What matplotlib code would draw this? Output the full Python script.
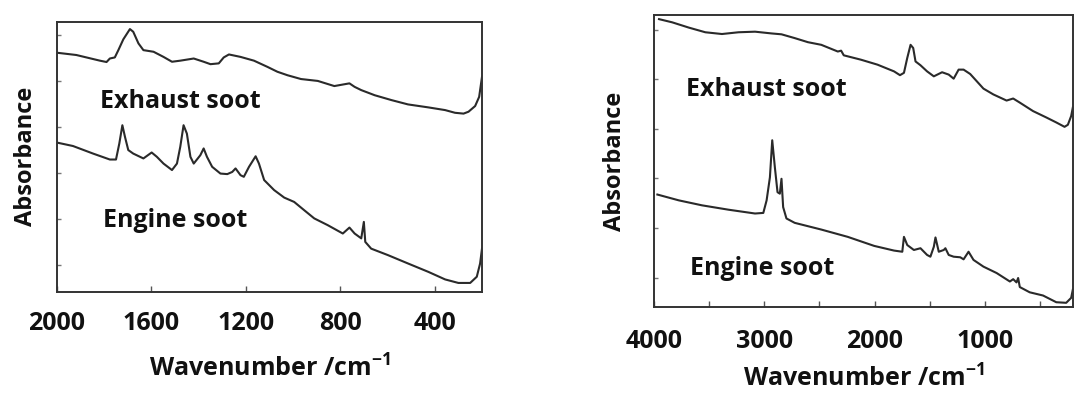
import numpy as np
import matplotlib
matplotlib.use("Agg")
import matplotlib.pyplot as plt

plt.rcParams.update({
    "font.family": ["Open Sans", "DejaVu Sans"],
    "font.weight": "bold",
    "axes.labelweight": "bold",
    "mathtext.fontset": "custom",
    "mathtext.rm": "Open Sans:bold",
    "mathtext.bf": "Open Sans:bold",
})

# ---- data (wavenumber cm-1, absorbance a.u.) ----
# left panel: 2000-200 cm-1
wn_exh_l = [1996, 1918, 1818, 1790, 1776, 1755, 1740, 1719, 1691, 1677, 1655, 1634, 1591,
            1549, 1513, 1478, 1421, 1379, 1350, 1315, 1294, 1272, 1223, 1166, 1109, 1067,
            1024, 967, 896, 826, 762, 740, 712, 655, 584, 514, 428, 357, 315, 279, 258,
            230, 213, 201]
ab_exh_l = [88.5, 87.7, 85.6, 85.1, 86.4, 86.8, 89.5, 93.5, 97.3, 96.3, 92.0, 89.5, 88.9,
            87.0, 85.2, 85.6, 86.4, 85.2, 84.3, 84.6, 86.8, 87.9, 87.0, 85.6, 83.3, 81.5,
            80.2, 78.8, 78.1, 76.2, 77.2, 75.9, 74.7, 72.8, 71.0, 69.4, 68.3, 67.3, 66.3,
            66.0, 66.7, 68.8, 72.2, 79.6]

wn_eng_l = [1996, 1932, 1847, 1776, 1750, 1736, 1723, 1712, 1698, 1677, 1634, 1599, 1577,
            1549, 1513, 1492, 1478, 1464, 1450, 1435, 1421, 1393, 1379, 1365, 1343, 1308,
            1279, 1258, 1244, 1223, 1209, 1187, 1159, 1145, 1123, 1081, 1038, 996, 953,
            911, 854, 790, 762, 740, 712, 701, 695, 670, 599, 514, 428, 357, 301, 251,
            223, 209, 201]
ab_eng_l = [55.2, 54.0, 51.2, 49.0, 49.0, 54.9, 61.7, 57.4, 52.5, 51.2, 49.4, 51.6, 50.0,
            47.5, 45.1, 47.5, 53.7, 61.7, 58.6, 50.0, 47.5, 50.6, 53.1, 50.0, 46.3, 43.8,
            43.6, 44.4, 45.7, 43.2, 42.6, 46.3, 50.2, 47.5, 41.4, 37.7, 34.9, 33.3, 30.2,
            27.2, 24.7, 21.6, 23.8, 21.6, 19.8, 25.9, 18.5, 16.0, 13.6, 10.5, 7.4, 4.6,
            3.3, 3.3, 5.6, 10.5, 16.0]

# right panel: 4000-200 cm-1
wn_exh_r = [3955, 3835, 3685, 3535, 3384, 3234, 3084, 2934, 2844, 2724, 2604, 2483, 2333,
            2303, 2279, 2123, 1973, 1823, 1769, 1733, 1703, 1673, 1649, 1628, 1583, 1523,
            1462, 1387, 1327, 1282, 1237, 1192, 1132, 1072, 1012, 922, 802, 742, 682, 562,
            441, 351, 276, 246, 216, 201]
ab_exh_r = [98.6, 97.5, 95.7, 94.1, 93.5, 94.1, 94.3, 93.7, 93.4, 92.1, 90.7, 89.8, 87.5,
            87.8, 86.2, 84.7, 83.0, 80.7, 79.4, 80.2, 85.3, 89.8, 88.7, 84.1, 82.8, 80.7,
            79.0, 80.4, 79.6, 78.2, 81.3, 81.3, 79.8, 77.3, 74.8, 72.8, 70.7, 71.4, 70.0,
            67.1, 64.9, 63.2, 61.7, 62.4, 65.4, 68.3]

wn_eng_r = [3970, 3775, 3565, 3324, 3084, 3009, 2979, 2949, 2928, 2904, 2880, 2859, 2844,
            2829, 2799, 2724, 2483, 2243, 2003, 1823, 1748, 1733, 1703, 1643, 1583, 1523,
            1493, 1462, 1447, 1417, 1372, 1357, 1327, 1282, 1222, 1192, 1147, 1102, 1012,
            892, 772, 742, 712, 697, 682, 592, 471, 351, 261, 216, 201]
ab_eng_r = [38.5, 36.5, 34.8, 33.3, 32.0, 32.2, 36.5, 44.4, 57.1, 47.8, 39.3, 38.8, 43.9,
            34.2, 30.3, 28.8, 26.5, 24.0, 20.9, 19.3, 18.9, 24.0, 21.2, 19.5, 20.1, 17.8,
            17.2, 20.6, 23.8, 18.9, 19.5, 20.1, 17.8, 17.2, 17.0, 16.3, 18.9, 16.1, 13.8,
            11.6, 8.7, 9.5, 8.4, 9.9, 6.8, 5.0, 3.9, 1.6, 1.4, 3.1, 5.9]

ticks_l = [2000, 1600, 1200, 800, 400]
ticks_r = [4000, 3000, 2000, 1000]
labels = ["Exhaust soot", "Engine soot"]

LINE = "#2a2a2a"
TXT = "#111111"
XLABEL = r"Wavenumber /cm$^{\mathbf{-1}}$"


def style_axis(ax, xlim, major, minor, tpad, xpad, ypad):
    ax.set_xlim(*xlim)
    ax.set_ylim(0, 100)
    ax.set_xticks(major)
    ax.set_xticks(minor, minor=True)
    ax.set_yticks([10, 27, 44, 61, 78, 95])
    ax.set_yticklabels([])
    ax.tick_params(axis="x", which="both", direction="in", length=4, width=1,
                   color="#555555", pad=tpad, labelsize=18, labelcolor=TXT)
    ax.tick_params(axis="y", direction="in", length=3, width=1, color="#777777")
    for s in ax.spines.values():
        s.set_color("#333333")
        s.set_linewidth(1.4)
    ax.set_xlabel(XLABEL, fontsize=18, color=TXT, labelpad=xpad)
    ax.set_ylabel("Absorbance", fontsize=17, color=TXT, labelpad=ypad)


fig = plt.figure(figsize=(10.74, 3.96), dpi=100)

ax1 = fig.add_axes([0.053, 0.263, 0.396, 0.682])
ax1.plot(wn_exh_l, ab_exh_l, color=LINE, lw=1.5)
ax1.plot(wn_eng_l, ab_eng_l, color=LINE, lw=1.5)
style_axis(ax1, (2000, 200), ticks_l, [800, 400], 14, 14, 10)
ax1.text(1818, 70.5, labels[0], fontsize=18, color=TXT, va="center")
ax1.text(1805, 26.5, labels[1], fontsize=18, color=TXT, va="center")

ax2 = fig.add_axes([0.609, 0.225, 0.39, 0.737])
ax2.plot(wn_exh_r, ab_exh_r, color=LINE, lw=1.5)
ax2.plot(wn_eng_r, ab_eng_r, color=LINE, lw=1.5)
style_axis(ax2, (4000, 200), ticks_r, [3500, 3000, 2500, 2000, 1500, 1000, 500], 16, 8, 16)
ax2.text(3710, 74.5, labels[0], fontsize=18, color=TXT, va="center")
ax2.text(3670, 13, labels[1], fontsize=18, color=TXT, va="center")

fig.savefig("out.png", dpi=100)
